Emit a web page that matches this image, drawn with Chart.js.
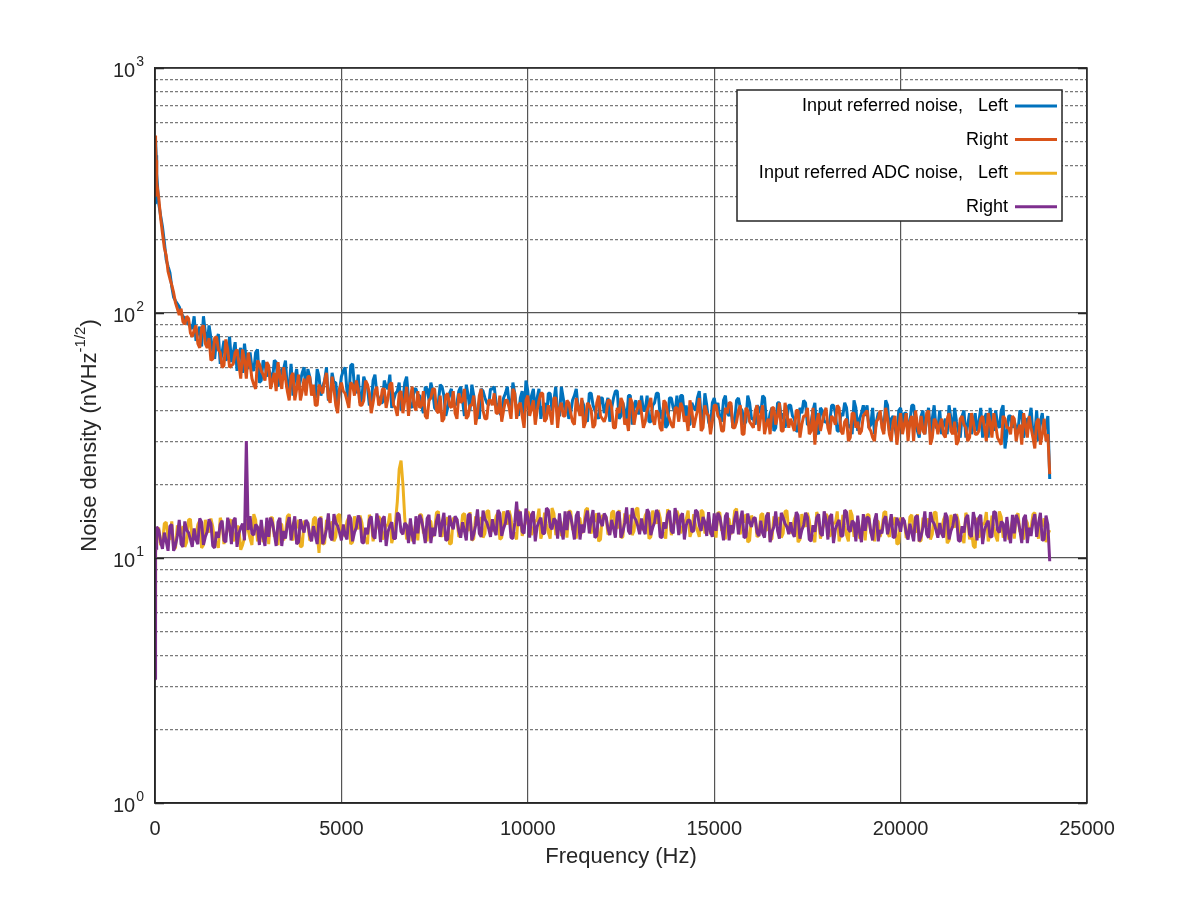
<!DOCTYPE html>
<html>
<head>
<meta charset="utf-8">
<script src="https://cdn.jsdelivr.net/npm/chart.js@4.4.0/dist/chart.umd.min.js"></script>
<style>
  html, body { margin: 0; padding: 0; background: #fff; }
  #wrap { width: 1202px; height: 900px; }
</style>
</head>
<body>
<div id="wrap"><canvas id="noiseChart" width="1202" height="900"></canvas></div>
<script>
// frequency bins (Hz)
const freqHz = [0, 10, 20, 30, 40,
  50, 100, 150, 200, 250, 300, 350, 400, 450, 500, 550, 600, 650, 700, 750, 800, 850, 900, 950, 1000,
  1050, 1100, 1150, 1200, 1250, 1300, 1350, 1400, 1450, 1500, 1550, 1600, 1650, 1700, 1750, 1800, 1850, 1900, 1950, 2000,
  2050, 2100, 2150, 2200, 2250, 2300, 2350, 2400, 2450, 2500, 2550, 2600, 2650, 2700, 2750, 2800, 2850, 2900, 2950, 3000,
  3050, 3100, 3150, 3200, 3250, 3300, 3350, 3400, 3450, 3500, 3550, 3600, 3650, 3700, 3750, 3800, 3850, 3900, 3950, 4000,
  4050, 4100, 4150, 4200, 4250, 4300, 4350, 4400, 4450, 4500, 4550, 4600, 4650, 4700, 4750, 4800, 4850, 4900, 4950, 5000,
  5050, 5100, 5150, 5200, 5250, 5300, 5350, 5400, 5450, 5500, 5550, 5600, 5650, 5700, 5750, 5800, 5850, 5900, 5950, 6000,
  6050, 6100, 6150, 6200, 6250, 6300, 6350, 6400, 6450, 6500, 6550, 6600, 6650, 6700, 6750, 6800, 6850, 6900, 6950, 7000,
  7050, 7100, 7150, 7200, 7250, 7300, 7350, 7400, 7450, 7500, 7550, 7600, 7650, 7700, 7750, 7800, 7850, 7900, 7950, 8000,
  8050, 8100, 8150, 8200, 8250, 8300, 8350, 8400, 8450, 8500, 8550, 8600, 8650, 8700, 8750, 8800, 8850, 8900, 8950, 9000,
  9050, 9100, 9150, 9200, 9250, 9300, 9350, 9400, 9450, 9500, 9550, 9600, 9650, 9700, 9750, 9800, 9850, 9900, 9950, 10000,
  10050, 10100, 10150, 10200, 10250, 10300, 10350, 10400, 10450, 10500, 10550, 10600, 10650, 10700, 10750, 10800, 10850, 10900, 10950, 11000,
  11050, 11100, 11150, 11200, 11250, 11300, 11350, 11400, 11450, 11500, 11550, 11600, 11650, 11700, 11750, 11800, 11850, 11900, 11950, 12000,
  12050, 12100, 12150, 12200, 12250, 12300, 12350, 12400, 12450, 12500, 12550, 12600, 12650, 12700, 12750, 12800, 12850, 12900, 12950, 13000,
  13050, 13100, 13150, 13200, 13250, 13300, 13350, 13400, 13450, 13500, 13550, 13600, 13650, 13700, 13750, 13800, 13850, 13900, 13950, 14000,
  14050, 14100, 14150, 14200, 14250, 14300, 14350, 14400, 14450, 14500, 14550, 14600, 14650, 14700, 14750, 14800, 14850, 14900, 14950, 15000,
  15050, 15100, 15150, 15200, 15250, 15300, 15350, 15400, 15450, 15500, 15550, 15600, 15650, 15700, 15750, 15800, 15850, 15900, 15950, 16000,
  16050, 16100, 16150, 16200, 16250, 16300, 16350, 16400, 16450, 16500, 16550, 16600, 16650, 16700, 16750, 16800, 16850, 16900, 16950, 17000,
  17050, 17100, 17150, 17200, 17250, 17300, 17350, 17400, 17450, 17500, 17550, 17600, 17650, 17700, 17750, 17800, 17850, 17900, 17950, 18000,
  18050, 18100, 18150, 18200, 18250, 18300, 18350, 18400, 18450, 18500, 18550, 18600, 18650, 18700, 18750, 18800, 18850, 18900, 18950, 19000,
  19050, 19100, 19150, 19200, 19250, 19300, 19350, 19400, 19450, 19500, 19550, 19600, 19650, 19700, 19750, 19800, 19850, 19900, 19950, 20000,
  20050, 20100, 20150, 20200, 20250, 20300, 20350, 20400, 20450, 20500, 20550, 20600, 20650, 20700, 20750, 20800, 20850, 20900, 20950, 21000,
  21050, 21100, 21150, 21200, 21250, 21300, 21350, 21400, 21450, 21500, 21550, 21600, 21650, 21700, 21750, 21800, 21850, 21900, 21950, 22000,
  22050, 22100, 22150, 22200, 22250, 22300, 22350, 22400, 22450, 22500, 22550, 22600, 22650, 22700, 22750, 22800, 22850, 22900, 22950, 23000,
  23050, 23100, 23150, 23200, 23250, 23300, 23350, 23400, 23450, 23500, 23550, 23600, 23650, 23700, 23750, 23800, 23850, 23900, 23950, 24000];

// input referred noise, left (nV/sqrt(Hz))
const inputLeft = [280, 470, 510, 440, 390,
  370, 280, 250, 225, 195, 165, 155, 146, 128, 116, 112, 109, 106, 100, 97, 95, 92, 90, 89, 86,
  97, 77, 83, 88, 73, 97, 83, 75, 89, 79, 70, 65, 78, 82, 62, 69, 77, 64, 66, 80,
  63, 69, 76, 58, 69, 72, 57, 75, 64, 59, 69, 60, 58, 69, 71, 52, 53, 64, 62, 55,
  59, 56, 53, 64, 63, 50, 55, 59, 59, 64, 49, 50, 62, 46, 54, 59, 49, 53, 57, 60,
  48, 59, 55, 49, 50, 45, 59, 55, 46, 50, 53, 60, 44, 45, 57, 52, 52, 42, 48, 55,
  58, 60, 48, 45, 61, 62, 50, 47, 56, 43, 45, 55, 52, 50, 42, 43, 53, 56, 47, 45,
  43, 43, 53, 50, 49, 56, 41, 44, 47, 48, 52, 40, 44, 52, 55, 45, 42, 41, 49, 49,
  46, 46, 42, 39, 50, 49, 44, 52, 48, 41, 40, 43, 51, 50, 46, 38, 41, 47, 49, 42,
  42, 43, 48, 50, 44, 38, 51, 46, 40, 51, 46, 40, 39, 37, 49, 48, 45, 43, 42, 49,
  49, 50, 43, 41, 39, 38, 45, 47, 50, 43, 40, 52, 47, 40, 38, 45, 48, 37, 53, 48,
  40, 46, 49, 39, 45, 49, 37, 41, 43, 37, 47, 47, 40, 44, 50, 38, 38, 50, 45, 40,
  43, 37, 39, 44, 46, 49, 41, 39, 44, 42, 37, 36, 47, 47, 42, 40, 38, 37, 45, 45,
  39, 42, 45, 36, 41, 45, 48, 48, 37, 38, 43, 40, 36, 46, 46, 35, 42, 44, 39, 39,
  46, 40, 40, 46, 36, 36, 42, 43, 47, 47, 38, 37, 43, 34, 35, 45, 45, 41, 39, 46,
  37, 46, 46, 38, 42, 35, 35, 43, 41, 40, 45, 48, 38, 36, 47, 42, 36, 34, 43, 45,
  41, 43, 37, 36, 44, 46, 39, 38, 42, 34, 36, 44, 45, 41, 40, 35, 36, 46, 43, 37,
  37, 35, 42, 41, 39, 46, 45, 36, 35, 39, 41, 33, 34, 43, 43, 37, 39, 34, 37, 42,
  42, 38, 37, 33, 33, 41, 39, 44, 43, 35, 35, 36, 40, 43, 33, 32, 41, 40, 36, 36,
  35, 36, 42, 42, 39, 33, 33, 39, 38, 43, 41, 34, 35, 32, 44, 41, 33, 37, 39, 42,
  38, 42, 34, 35, 41, 32, 36, 39, 39, 36, 33, 44, 42, 33, 37, 38, 34, 31, 40, 41,
  35, 39, 39, 33, 36, 42, 42, 35, 33, 31, 38, 40, 32, 37, 41, 32, 37, 42, 34, 34,
  40, 32, 35, 37, 32, 42, 37, 33, 41, 36, 33, 31, 38, 40, 31, 35, 39, 32, 35, 39,
  33, 36, 41, 31, 37, 39, 31, 41, 36, 33, 40, 35, 34, 40, 42, 28, 32, 38, 38, 34,
  36, 34, 33, 40, 39, 31, 34, 37, 37, 41, 32, 32, 40, 30, 36, 39, 32, 35, 38, 21];

// input referred noise, right
const inputRight = [300, 530, 480, 420, 370,
  340, 295, 245, 212, 185, 172, 148, 138, 130, 121, 110, 104, 98, 104, 92, 90, 97, 95, 83, 80,
  85, 89, 75, 72, 87, 89, 75, 72, 79, 64, 65, 79, 80, 71, 69, 60, 61, 78, 71, 60,
  61, 62, 69, 71, 62, 54, 71, 64, 54, 69, 62, 54, 51, 49, 64, 62, 58, 56, 53, 63,
  61, 49, 53, 57, 48, 63, 55, 49, 60, 54, 48, 44, 55, 57, 44, 49, 56, 44, 48, 54,
  46, 55, 55, 46, 51, 42, 42, 51, 49, 47, 53, 57, 45, 43, 55, 49, 42, 39, 49, 52,
  48, 47, 44, 41, 52, 51, 46, 53, 49, 42, 42, 44, 53, 51, 47, 39, 43, 48, 50, 42,
  43, 49, 49, 41, 45, 51, 52, 42, 41, 38, 47, 48, 39, 44, 50, 38, 45, 50, 42, 40,
  48, 41, 42, 48, 38, 37, 44, 45, 49, 49, 40, 39, 46, 36, 37, 46, 47, 42, 41, 48,
  39, 37, 47, 43, 44, 49, 37, 38, 42, 42, 46, 35, 39, 46, 49, 40, 37, 37, 44, 44,
  42, 47, 39, 39, 46, 36, 40, 44, 44, 41, 37, 49, 47, 37, 42, 43, 38, 34, 44, 46,
  38, 41, 44, 35, 40, 44, 47, 47, 36, 37, 42, 39, 35, 45, 45, 34, 41, 43, 38, 38,
  44, 43, 39, 36, 35, 45, 41, 38, 45, 34, 36, 43, 42, 40, 34, 35, 43, 46, 38, 37,
  36, 38, 44, 44, 41, 34, 34, 41, 39, 45, 43, 35, 37, 33, 45, 43, 35, 39, 41, 44,
  39, 34, 36, 40, 42, 45, 37, 35, 40, 39, 34, 33, 44, 43, 39, 37, 35, 34, 41, 41,
  36, 43, 41, 36, 38, 33, 44, 40, 34, 37, 40, 45, 33, 34, 42, 39, 38, 32, 36, 42,
  42, 38, 37, 33, 33, 41, 39, 43, 43, 34, 34, 36, 40, 42, 32, 32, 41, 40, 36, 35,
  34, 40, 42, 33, 38, 42, 32, 35, 37, 32, 41, 41, 35, 38, 43, 33, 33, 43, 39, 34,
  37, 35, 33, 40, 40, 31, 35, 38, 38, 41, 32, 33, 41, 29, 36, 39, 33, 36, 39, 41,
  34, 32, 38, 37, 35, 42, 41, 33, 32, 36, 37, 30, 31, 39, 39, 34, 36, 32, 33, 38,
  39, 40, 34, 33, 31, 30, 36, 37, 40, 34, 32, 41, 37, 32, 30, 36, 38, 29, 34, 39,
  32, 35, 39, 30, 36, 38, 30, 40, 35, 32, 38, 33, 32, 39, 40, 29, 31, 37, 36, 32,
  35, 37, 32, 31, 37, 39, 33, 32, 36, 29, 30, 37, 38, 35, 34, 30, 31, 39, 36, 32,
  32, 33, 37, 38, 34, 30, 39, 36, 31, 39, 35, 31, 30, 29, 38, 37, 34, 34, 32, 38,
  37, 30, 33, 35, 29, 39, 35, 31, 38, 34, 31, 28, 36, 37, 29, 32, 37, 30, 32, 22];

// input referred ADC noise, left
const adcLeft = [6, 9.5, 11, 12.5, 11.5,
  13, 13.3, 11.3, 11.4, 13.8, 14, 12, 11.9, 14.1, 10.9, 11, 13.6, 12.6, 12.6, 13.5, 11.1, 11.6, 14.3, 14.4, 11.8,
  12, 12.5, 13.7, 14.2, 11, 11.3, 14.3, 13.3, 12.7, 14.5, 13.4, 11.8, 11.6, 11, 14.6, 13.8, 11.4, 12.4, 13.1, 14.3,
  14.2, 11.7, 12.4, 13.4, 13.4, 10.8, 11.3, 12.1, 14.4, 13, 12, 11.3, 15.1, 14.3, 11.7, 12.4, 13.8, 11.6, 12.6, 13.8,
  11.4, 14.6, 14.6, 12.2, 12.6, 11.3, 13.8, 13.7, 11.8, 12.6, 14.8, 15.1, 12.4, 11.8, 13.4, 13.3, 14.3, 11.1, 11.2, 14.2,
  13.6, 13.9, 11.8, 11.9, 14.4, 14.7, 12.6, 10.5, 14.8, 11.4, 11.5, 14.3, 13.2, 13.2, 14.1, 11.7, 12.2, 14.9, 15.1, 12.3,
  12.4, 12.9, 14.1, 14.7, 11.4, 11.6, 14.8, 13.7, 13.1, 14.9, 13.9, 12.1, 12, 11.4, 15, 14.3, 11.7, 12.8, 13.5, 14.8,
  14.4, 11.9, 12.5, 13.6, 13.6, 15.2, 11.5, 12.3, 14, 17, 23, 25, 20, 14.5, 11.9, 12.5, 14, 11.7, 12.8, 14,
  11.8, 15, 15, 12.6, 13, 11.7, 14.2, 14.1, 12.2, 13, 15.3, 15.5, 12.7, 12.2, 13.8, 13.7, 14.7, 11.4, 11.5, 14.6,
  14.1, 14.4, 12.2, 12.4, 15, 15.2, 13.1, 12.9, 15.4, 11.8, 12, 14.8, 13.7, 13.7, 14.7, 12.1, 12.6, 15.5, 15.6, 12.8,
  13, 13.5, 14.8, 15.3, 11.9, 12.1, 15.5, 14.4, 13.7, 15.6, 14.5, 12.7, 12.6, 11.9, 15.7, 14.9, 12.3, 13.4, 14.1, 15.5,
  15, 12.4, 13.1, 14.2, 14.2, 15.9, 12, 12.8, 15.3, 13.8, 12.7, 12, 16, 15.2, 12.4, 13.1, 14.6, 12.3, 13.4, 14.6,
  12.1, 15.5, 15.5, 13, 13.4, 12, 14.6, 14.5, 12.6, 13.4, 15.7, 16, 13.1, 12.6, 14.2, 14.1, 15.2, 11.7, 11.9, 15,
  14.5, 14.7, 12.5, 12.6, 15.3, 15.6, 13.3, 13.2, 15.7, 12.1, 12.2, 15.2, 14, 14, 15, 12.4, 12.9, 15.8, 16, 13.1,
  13.1, 13.6, 14.9, 15.4, 12, 12.2, 15.6, 14.5, 13.8, 15.7, 14.6, 12.8, 12.6, 12, 15.8, 15, 12.4, 13.5, 14.2, 15.6,
  14.8, 12.6, 13.3, 14, 14.4, 15.6, 12.2, 12.9, 15.1, 13.6, 12.9, 12.2, 15.7, 15.4, 12.6, 12.9, 14.8, 12.5, 13.2, 14.4,
  12.1, 15.3, 15.3, 12.9, 13.3, 11.9, 14.5, 14.4, 12.5, 13.3, 15.6, 15.9, 13, 12.5, 14.1, 14, 15.1, 11.6, 11.8, 14.9,
  14.1, 14.4, 12.2, 12.4, 15, 15.2, 13.1, 12.9, 15.4, 11.8, 12, 14.8, 13.7, 13.7, 14.7, 12.1, 12.6, 15.5, 15.6, 12.8,
  12.7, 13.2, 14.4, 15, 11.6, 11.9, 15.1, 14, 13.4, 15.3, 14.2, 12.4, 12.3, 11.6, 15.4, 14.6, 12, 13.1, 13.8, 15.1,
  14.7, 12.2, 12.8, 13.9, 13.9, 15.5, 11.7, 12.6, 15, 13.5, 12.4, 11.7, 15.7, 14.9, 12.2, 12.8, 14.3, 12, 13.1, 14.3,
  11.8, 15, 15, 12.6, 13, 11.7, 14.2, 14.1, 12.2, 13, 15.3, 15.5, 12.7, 12.2, 13.8, 13.7, 14.7, 11.4, 11.5, 14.6,
  13.9, 14.2, 12.1, 12.2, 14.7, 15, 12.9, 12.7, 15.1, 11.7, 11.8, 14.6, 13.5, 13.5, 14.5, 11.9, 12.5, 15.3, 15.4, 12.6,
  12.6, 13.1, 14.3, 14.9, 11.5, 11.8, 15, 13.9, 13.3, 15.1, 14.1, 12.3, 12.2, 11.5, 15.3, 14.5, 11.9, 13, 11.2, 11,
  14.6, 12.1, 12.7, 13.8, 13.8, 15.4, 11.7, 12.5, 14.9, 13.4, 12.3, 11.7, 15.5, 14.7, 12.1, 12.7, 14.2, 11.9, 13, 14.2,
  12, 14.8, 15.2, 12.8, 12.8, 11.9, 14.4, 13.9, 12.4, 13.2, 15.1, 15.3, 12.9, 12, 14, 13.5, 14.5, 11.6, 12.5, 13];

// input referred ADC noise, right
const adcRight = [3.2, 7.5, 10.5, 11.5, 10.8,
  13.4, 13, 11.7, 10.9, 12.7, 11.7, 10.7, 13.5, 13.7, 10.7, 11.3, 12.3, 14.3, 11.4, 11.1, 14.1, 13, 12.7, 11.9, 11.1,
  13.2, 11.9, 11.4, 14.5, 14, 11.3, 12.2, 12.8, 14.4, 13.8, 11.2, 11, 12.8, 12.1, 13.7, 14.2, 11.8, 11.6, 14.6, 13.5,
  11.4, 14.2, 14.6, 11.1, 12.6, 13.3, 13.8, 11.8, 30, 13, 14.8, 12.6, 12.4, 13.7, 13.4, 11.3, 14.3, 12.2, 11.2, 14.6,
  12.2, 14.6, 13.9, 12.6, 11.2, 14, 14.6, 11.2, 12.9, 12, 13.7, 14.7, 11.8, 13.5, 14.8, 11.4, 11.6, 14.4, 13.3, 12.7,
  14.3, 13.9, 12.4, 11.7, 13.5, 12.4, 11.4, 14.4, 14.5, 11.4, 12.1, 13.1, 15.2, 12.2, 11.8, 15.1, 13.9, 13.5, 12.7, 11.8,
  13.7, 12.4, 11.9, 15, 14.5, 11.7, 12.7, 13.3, 14.9, 14.4, 11.6, 11.5, 13.3, 12.5, 14.3, 14.8, 12.3, 12, 15.2, 14,
  11.6, 14.4, 14.8, 11.2, 12.8, 13.5, 14, 12, 12, 15.3, 15, 12.8, 12.5, 13.9, 13.6, 11.5, 14.5, 12.4, 11.4, 14.8,
  12.6, 15, 14.3, 13, 11.5, 14.5, 15, 11.5, 13.3, 12.3, 14.1, 15.1, 12.2, 13.9, 15.3, 11.8, 11.9, 14.9, 13.7, 13.1,
  14.8, 14.4, 12.9, 12.1, 14, 12.9, 11.8, 15, 15.1, 11.8, 12.5, 13.6, 15.8, 12.6, 12.2, 15.6, 14.4, 14, 13.2, 12.2,
  14.4, 13, 12.4, 15.7, 15.2, 12.3, 13.2, 13.9, 15.6, 15, 12.1, 12, 13.9, 17, 13.5, 15.5, 12.8, 12.6, 15.9, 14.6,
  12.1, 15, 15.5, 11.7, 13.4, 14.1, 14.6, 12.6, 12.6, 16, 15.7, 13.4, 13.1, 14.5, 14.2, 12, 15.2, 13, 11.9, 15.5,
  13, 15.5, 14.8, 13.4, 11.9, 14.9, 15.5, 11.9, 13.7, 12.7, 14.5, 15.6, 12.6, 14.4, 15.7, 12.1, 12.3, 15.3, 14.1, 13.5,
  15.2, 14.7, 13.2, 12.4, 14.3, 13.2, 12.1, 15.3, 15.4, 12.1, 12.8, 13.9, 16.1, 12.9, 12.5, 16, 14.7, 14.3, 13.5, 12.5,
  14.5, 13.1, 12.5, 15.8, 15.3, 12.4, 13.3, 14, 15.7, 15.2, 12.2, 12.1, 14, 13.2, 15, 15.6, 12.9, 12.6, 16, 14.7,
  12.4, 14.8, 15.2, 11.9, 13.6, 14.3, 14.2, 12.8, 12.9, 15.7, 15.4, 13.6, 12.9, 14.7, 14, 12.3, 15.4, 12.8, 12.2, 15.2,
  12.9, 15.3, 14.7, 13.3, 11.8, 14.8, 15.3, 11.8, 13.6, 12.6, 14.4, 15.5, 12.5, 14.2, 15.6, 12.1, 12.2, 15.2, 14, 13.4,
  14.5, 14.6, 12.7, 12.3, 14.2, 12.6, 12.1, 14.8, 15.3, 11.6, 12.8, 13.4, 15.5, 12.9, 12, 15.3, 14.6, 13.8, 13.4, 12.5,
  14, 12.7, 12.2, 15.4, 14.9, 12, 13, 13.6, 15.3, 14.7, 11.9, 11.7, 13.6, 12.8, 14.6, 15.1, 12.6, 12.3, 15.5, 14.3,
  11.9, 14.7, 15.1, 11.5, 13.1, 13.8, 14.3, 12.3, 12.3, 15.7, 15.4, 13.1, 12.8, 14.2, 13.9, 11.7, 14.9, 12.7, 11.6, 15.1,
  12.9, 14.7, 14.5, 12.8, 11.8, 14.2, 15.2, 11.7, 13, 12.6, 14.3, 14.8, 12.5, 13.6, 15.1, 12.1, 12.2, 14.6, 13.9, 12.8,
  14.6, 14.2, 12.7, 11.9, 13.8, 12.7, 11.7, 14.7, 14.9, 11.7, 12.3, 13.4, 15.5, 12.5, 12.1, 15.4, 14.2, 13.8, 13, 12.1,
  13.9, 12.6, 12.1, 15.3, 14.7, 11.9, 12.9, 13.5, 15.1, 14.6, 11.8, 11.7, 13.5, 12.7, 14.5, 15, 12.5, 12.2, 15.4, 14.2,
  11.8, 14.6, 15, 11.4, 13, 13.7, 14.2, 12.2, 12.2, 15.5, 15.3, 13, 12.7, 14.1, 13.8, 11.7, 14.7, 12.6, 11.5, 15,
  12.6, 15, 14.3, 13, 11.5, 14.5, 15, 11.5, 13.3, 12.3, 14.1, 15.1, 12.2, 13.9, 15.3, 11.8, 11.9, 14.9, 13.7, 9.7];

const xTicks = [0, 5000, 10000, 15000, 20000, 25000];
const yMajorTicks = [1, 10, 100, 1000];
const yMinorTicks = [2, 3, 4, 5, 6, 7, 8, 9, 20, 30, 40, 50, 60, 70, 80, 90, 200, 300, 400, 500, 600, 700, 800, 900];
const seriesLabels = ['Input referred noise,   Left', 'Right', 'Input referred ADC noise,   Left', 'Right'];
const seriesColors = ['#0072BD', '#D95319', '#EDB120', '#7E2F8E'];

const FONT = '"Liberation Sans", Arial, Helvetica, sans-serif';
const TEXT = '#262626';

function toPoints(ys) {
    return freqHz.map((f, i) => ({ x: f, y: ys[i] }));
}

const frameAndLabels = {
    id: 'frameAndLabels',
    afterDraw(chart) {
        const ctx = chart.ctx;
        const area = chart.chartArea;
        const y = chart.scales.y;
        ctx.save();

        // box round the plot
        ctx.strokeStyle = TEXT;
        ctx.lineWidth = 1.5;
        ctx.strokeRect(area.left, area.top, area.right - area.left, area.bottom - area.top);

        // inside tick marks on left/right
        yMajorTicks.forEach(v => {
            const py = Math.round(y.getPixelForValue(v)) + 0.5;
            ctx.beginPath();
            ctx.moveTo(area.left, py); ctx.lineTo(area.left + 9, py);
            ctx.moveTo(area.right, py); ctx.lineTo(area.right - 9, py);
            ctx.stroke();
        });

        // decade labels 10^n
        ctx.fillStyle = TEXT;
        ctx.textBaseline = 'middle';
        yMajorTicks.forEach(v => {
            const py = y.getPixelForValue(v);
            const exp = String(Math.round(Math.log10(v)));
            ctx.font = '14px ' + FONT;
            ctx.textAlign = 'right';
            ctx.fillText(exp, 144, py - 6);
            const ew = ctx.measureText(exp).width;
            ctx.font = '20px ' + FONT;
            ctx.fillText('10', 144 - ew - 1, py + 3);
        });

        // y title with superscript
        ctx.save();
        ctx.translate(90, (area.top + area.bottom) / 2);
        ctx.rotate(-Math.PI / 2);
        const main = 'Noise density (nVHz';
        const sup = '-1/2';
        const tail = ')';
        ctx.font = '22px ' + FONT;
        const w1 = ctx.measureText(main).width;
        const w3 = ctx.measureText(tail).width;
        ctx.font = '15px ' + FONT;
        const w2 = ctx.measureText(sup).width;
        const x0 = -(w1 + w2 + w3) / 2;
        ctx.textAlign = 'left';
        ctx.font = '22px ' + FONT;
        ctx.fillText(main, x0, 0);
        ctx.font = '15px ' + FONT;
        ctx.fillText(sup, x0 + w1, -9);
        ctx.font = '22px ' + FONT;
        ctx.fillText(tail, x0 + w1 + w2, 0);
        ctx.restore();

        // legend box
        const bx = 737, by = 90, bw = 325, bh = 131;
        ctx.fillStyle = '#fff';
        ctx.fillRect(bx, by, bw, bh);
        ctx.strokeStyle = TEXT;
        ctx.lineWidth = 1.5;
        ctx.strokeRect(bx, by, bw, bh);
        ctx.font = '18px ' + FONT;
        ctx.textAlign = 'right';
        ctx.textBaseline = 'middle';
        seriesLabels.forEach((lab, i) => {
            const ry = 106 + i * 33.6;
            ctx.fillStyle = '#000';
            ctx.fillText(lab, 1008, ry);
            ctx.strokeStyle = seriesColors[i];
            ctx.lineWidth = 3;
            ctx.beginPath();
            ctx.moveTo(1015, ry); ctx.lineTo(1057, ry);
            ctx.stroke();
        });
        ctx.restore();
    }
};

const ctx = document.getElementById('noiseChart').getContext('2d');
new Chart(ctx, {
    type: 'line',
    data: {
        datasets: [
            { label: seriesLabels[0], data: toPoints(inputLeft), borderColor: seriesColors[0], order: 4 },
            { label: seriesLabels[1], data: toPoints(inputRight), borderColor: seriesColors[1], order: 3 },
            { label: seriesLabels[2], data: toPoints(adcLeft), borderColor: seriesColors[2], order: 2 },
            { label: seriesLabels[3], data: toPoints(adcRight), borderColor: seriesColors[3], order: 1 }
        ]
    },
    options: {
        responsive: false,
        animation: false,
        events: [],
        layout: { padding: { top: 68, right: 115, bottom: 0, left: 0 } },
        elements: {
            point: { radius: 0 },
            line: { borderWidth: 3, tension: 0, borderJoinStyle: 'bevel', fill: false }
        },
        plugins: { legend: { display: false }, tooltip: { enabled: false } },
        scales: {
            x: {
                type: 'linear',
                min: 0,
                max: 25000,
                afterBuildTicks: s => { s.ticks = xTicks.map(v => ({ value: v })); },
                afterFit: s => { s.height = 97; },
                grid: { color: '#555', lineWidth: 1.2, drawTicks: false },
                border: { color: TEXT, width: 1.5 },
                ticks: {
                    color: TEXT,
                    font: { family: FONT, size: 20 },
                    padding: 14,
                    maxRotation: 0,
                    callback: v => String(v)
                },
                title: {
                    display: true,
                    text: 'Frequency (Hz)',
                    color: TEXT,
                    font: { family: FONT, size: 22 },
                    padding: { top: 0, bottom: 30 }
                }
            },
            y: {
                type: 'logarithmic',
                min: 1,
                max: 1000,
                afterBuildTicks: s => { s.ticks = yMajorTicks.map(v => ({ value: v })); },
                afterFit: s => { s.width = 155; },
                grid: { color: '#555', lineWidth: 1.2, drawTicks: false },
                border: { color: TEXT, width: 1.5 },
                ticks: { display: false }
            },
            yMinor: {
                type: 'logarithmic',
                position: 'left',
                min: 1,
                max: 1000,
                afterBuildTicks: s => { s.ticks = yMinorTicks.map(v => ({ value: v })); },
                afterFit: s => { s.width = 0; },
                grid: { color: '#7a7a7a', lineWidth: 1.2, drawTicks: false },
                border: { display: false, dash: [3, 2] },
                ticks: { display: false }
            }
        }
    },
    plugins: [frameAndLabels]
});
</script>
</body>
</html>
